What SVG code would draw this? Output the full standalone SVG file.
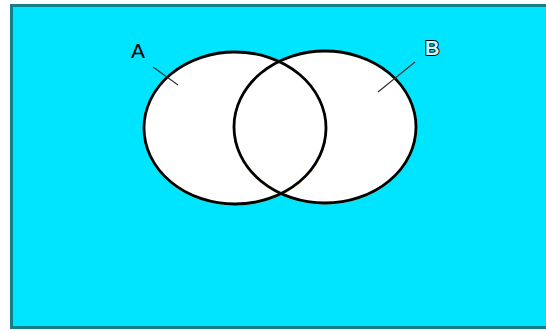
<svg xmlns="http://www.w3.org/2000/svg" width="546" height="333" viewBox="0 0 546 333">
<style>
.set{fill:#ffffff;stroke:none}
.ring{fill:none;stroke:#000000;stroke-width:2.8}
.lbl{font-family:"Liberation Sans",Arial,sans-serif;font-size:21px}
.ptr{stroke:#333333;stroke-width:1.2}
</style>
<rect x="0" y="0" width="546" height="333" fill="#ffffff"/>
<g id="universe">
<rect x="11.5" y="5.5" width="560" height="322" fill="#00e5ff" stroke="#127f8a" stroke-width="3"/>
</g>
<g id="setA">
<ellipse class="set" cx="235" cy="128" rx="91" ry="76"/>
</g>
<g id="setB">
<ellipse class="set" cx="325" cy="127" rx="91" ry="76"/>
</g>
<g id="outlines">
<ellipse cx="235" cy="128.5" rx="91.5" ry="76.5" fill="none" stroke="#d9a520" stroke-width="1.5" opacity="0.5"/>
<ellipse cx="325" cy="127.5" rx="91.5" ry="76.5" fill="none" stroke="#d9a520" stroke-width="1.5" opacity="0.5"/>
<ellipse class="ring" cx="235" cy="128" rx="91" ry="76"/>
<ellipse class="ring" cx="325" cy="127" rx="91" ry="76"/>
</g>
<g id="labelA">
<text class="lbl" x="131" y="58" fill="#000000">A</text>
</g>
<g id="labelB">
<text class="lbl" x="425" y="55" fill="#c8f8ff" stroke="#000000" stroke-width="2" paint-order="stroke" style="font-size:20px;font-weight:bold">B</text>
</g>
<g id="connectors">
<line class="ptr" x1="153" y1="67" x2="178" y2="85"/>
<line class="ptr" x1="415" y1="62" x2="378" y2="92"/>
</g>
</svg>
